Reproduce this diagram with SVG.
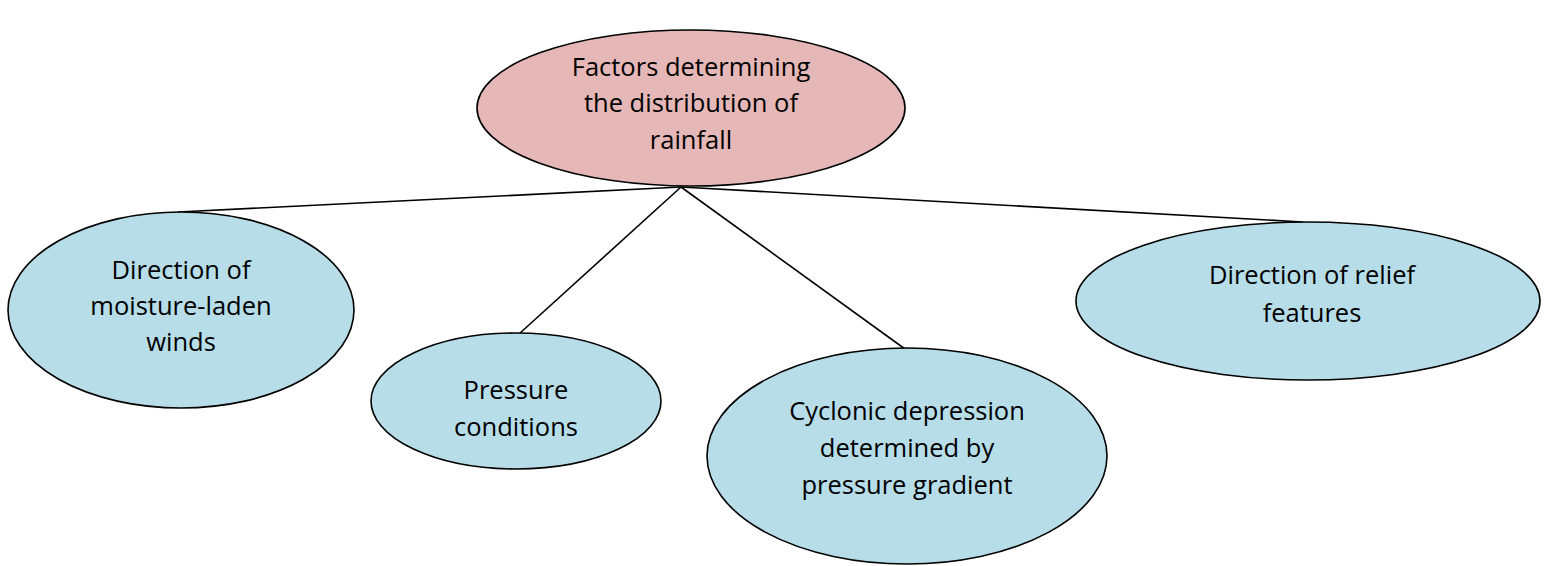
<svg xmlns="http://www.w3.org/2000/svg" width="1547" height="566" viewBox="0 0 1547 566">
<style>
.n{stroke:#000;stroke-width:1.6}
.root{fill:#e5b8b7}
.leaf{fill:#b6dde8}
.c line{stroke:#000;stroke-width:1.6}
text{font-family:"Open Sans","Liberation Sans",sans-serif;font-size:25.5px;fill:#000;text-anchor:middle}
</style>
<rect width="1547" height="566" fill="#fff"/>
<g class="c" id="connectors">
<line x1="681" y1="187" x2="178" y2="212"/>
<line x1="681" y1="187" x2="1303" y2="222"/>
<line x1="681" y1="187" x2="519" y2="334"/>
<line x1="681" y1="187" x2="905" y2="349"/>
</g>
<g id="root">
<ellipse class="n root" cx="691" cy="108" rx="214" ry="78"/>
<text x="691" y="76">Factors determining</text>
<text x="691" y="112">the distribution of</text>
<text x="691" y="149">rainfall</text>
</g>
<g id="winds">
<ellipse class="n leaf" cx="181" cy="310" rx="173" ry="98"/>
<text x="181" y="279">Direction of</text>
<text x="181" y="315">moisture-laden</text>
<text x="181" y="351">winds</text>
</g>
<g id="pressure">
<ellipse class="n leaf" cx="516" cy="401" rx="145" ry="68"/>
<text x="516" y="399">Pressure</text>
<text x="516" y="436">conditions</text>
</g>
<g id="cyclonic">
<ellipse class="n leaf" cx="907" cy="456" rx="200" ry="108"/>
<text x="907" y="420">Cyclonic depression</text>
<text x="907" y="457">determined by</text>
<text x="907" y="494">pressure gradient</text>
</g>
<g id="relief">
<ellipse class="n leaf" cx="1308" cy="301" rx="232" ry="79"/>
<text x="1312" y="284">Direction of relief</text>
<text x="1312" y="322">features</text>
</g>
</svg>
